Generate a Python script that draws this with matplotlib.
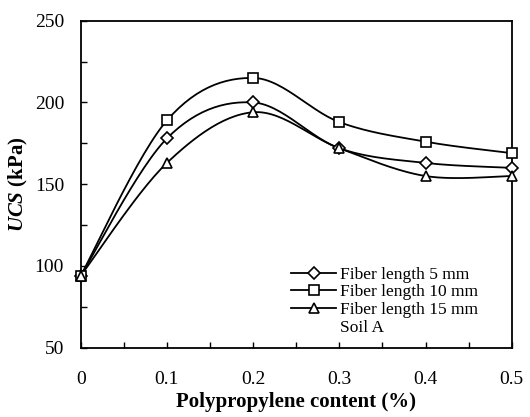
import numpy as np
import matplotlib
matplotlib.use("Agg")
import matplotlib.pyplot as plt
from matplotlib.lines import Line2D

plt.rcParams['font.family'] = ['Liberation Serif', 'DejaVu Serif']
plt.rcParams['mathtext.fontset'] = 'custom'
plt.rcParams['mathtext.bfit'] = 'Liberation Serif:italic:bold'
plt.rcParams['mathtext.rm'] = 'Liberation Serif'

content = [0, 0.1, 0.2, 0.3, 0.4, 0.5]
ucs_5mm = [94, 178, 200, 172, 163, 160]
ucs_10mm = [94, 189, 215, 188, 176, 169]
ucs_15mm = [94, 163, 194, 172, 155, 155]
labels = ["Fiber length 5 mm", "Fiber length 10 mm", "Fiber length 15 mm"]
markers = ["D", "s", "^"]
xticks = [0, 0.1, 0.2, 0.3, 0.4, 0.5]
yticks = [50, 100, 150, 200, 250]


def smooth(x, y, n=30):
    # Catmull-Rom style smoothing (like spreadsheet "smoothed line")
    x = np.asarray(x, float); y = np.asarray(y, float)
    P = np.column_stack([x, y])
    P = np.vstack([P[0], P, P[-1]])
    out = []
    t = np.linspace(0, 1, n)
    for i in range(1, len(P) - 2):
        p0, p1, p2, p3 = P[i-1], P[i], P[i+1], P[i+2]
        c1 = p1 + (p2 - p0) / 6
        c2 = p2 - (p3 - p1) / 6
        seg = ((1-t)**3)[:, None]*p1 + (3*(1-t)**2*t)[:, None]*c1 + (3*(1-t)*t**2)[:, None]*c2 + (t**3)[:, None]*p2
        out.append(seg if i == 1 else seg[1:])
    s = np.vstack(out)
    return s[:, 0], s[:, 1]


fig = plt.figure(figsize=(5.3, 4.17), dpi=100)
ax = fig.add_axes([80.7/530, 1-347.7/417, (511.7-80.7)/530, (347.7-20.7)/417])

handles = []
for ys, m, lab in zip([ucs_5mm, ucs_10mm, ucs_15mm], markers, labels):
    sx, sy = smooth(content, ys)
    ax.plot(sx, sy, color='black', lw=1.3, zorder=2)
    ms = 6.5 if m == 'D' else 7.5
    ax.plot(content, ys, linestyle='none', marker=m, ms=ms, mfc='white', mec='black', mew=1.2, zorder=3, clip_on=False)
    handles.append(Line2D([], [], color='black', lw=1.3, marker=m, ms=ms, mfc='white', mec='black', mew=1.2))
handles.append(Line2D([], [], color='none'))

ax.set_xlim(0, 0.5)
ax.set_ylim(50, 250)
ax.set_xticks(xticks)
ax.set_xticklabels(['0', '0.1', '0.2', '0.3', '0.4', '0.5'])
ax.set_yticks(yticks)
ax.set_xticks(np.arange(0.05, 0.5, 0.1), minor=True)
ax.set_yticks(np.arange(75, 250, 50), minor=True)
ax.tick_params(which='both', direction='in', length=4, width=1, top=False, right=False)
ax.tick_params(axis='x', which='major', pad=17, labelsize=14)
ax.tick_params(axis='y', which='major', pad=12, labelsize=14)
for s in ax.spines.values():
    s.set_linewidth(1.3)

ax.set_xlabel('Polypropylene content (%)', fontsize=15, fontweight='bold', labelpad=3)
ax.set_ylabel(r'$\mathbfit{UCS}$ (kPa)', fontsize=15, fontweight='bold', labelpad=3)

leg = ax.legend(handles, labels + ['Soil A'], loc='lower left', bbox_to_anchor=(0.46, 0.0),
                frameon=False, fontsize=12.5, handlelength=2.6, handletextpad=0.2,
                labelspacing=0.08, borderaxespad=0.3)

fig.savefig('out.png', dpi=100)
